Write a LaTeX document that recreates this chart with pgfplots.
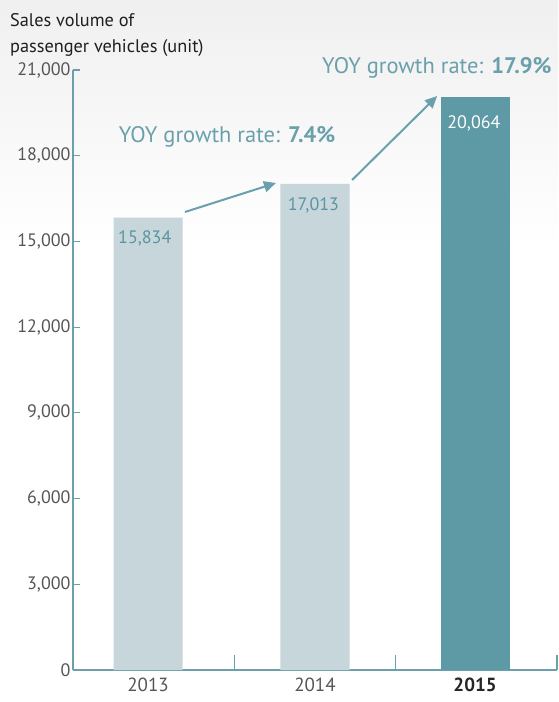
\documentclass[border=0pt]{standalone}
\usepackage{pgfplots}
\pgfplotsset{compat=1.18}
\usetikzlibrary{arrows.meta}
\usepackage{fontspec}
\setmainfont{PT Sans}
\definecolor{axisc}{HTML}{6A9FAB}
\definecolor{lightbar}{HTML}{C6D6DB}
\definecolor{darkbar}{HTML}{5E99A6}
\definecolor{tealtxt}{HTML}{6AA0AC}
\definecolor{valtxt}{HTML}{5A94A1}
\definecolor{ticktext}{HTML}{555555}
\begin{document}
\begin{tikzpicture}
\useasboundingbox (-73pt,-32pt) rectangle (485pt,670pt);
\fill[top color=black!6, bottom color=white] (-73pt,420pt) rectangle (485pt,670pt);
\begin{axis}[
  at={(0pt,0pt)}, anchor=south west,
  scale only axis, width=484pt, height=600pt,
  xmin=0.5, xmax=3.5, ymin=0, ymax=21000,
  clip=false,
  axis lines*=left,
  axis line style={axisc, line width=1.2pt},
  tick align=inside,
  major tick length=7pt,
  tick style={axisc, line width=1.2pt},
  ytick={0,3000,...,21000},
  scaled y ticks=false,
  yticklabel style={font=\fontsize{18}{20}\selectfont, text=ticktext, xshift=1pt},
  /pgf/number format/assume math mode=true,
  /pgf/number format/.cd, fixed, 1000 sep={,}, /pgfplots/.cd,
  xtick={0.965,2,2.992},
  xticklabels={2013,2014,{\color{black!85}\bfseries 2015}},
  xticklabel style={font=\fontsize{19}{21}\selectfont, text=ticktext, yshift=-4pt},
  x tick style={draw=none},
  extra x ticks={1.5,2.5,3.5},
  extra x tick labels={},
  extra x tick style={major tick length=15pt, x tick style={draw=axisc, line width=1.2pt}},
]
\addplot[ybar, bar shift=0pt, bar width=69pt, fill=lightbar, draw=none] coordinates {(0.965,15834) (2,17013)};
\addplot[ybar, bar shift=0pt, bar width=69pt, fill=darkbar, draw=none] coordinates {(2.992,20064)};

\node[font=\fontsize{18}{20}\selectfont, text=valtxt] at (axis cs:0.945,15120) {15,834};
\node[font=\fontsize{18}{20}\selectfont, text=valtxt] at (axis cs:1.99,16275) {17,013};
\node[font=\fontsize{18}{20}\selectfont, text=white] at (axis cs:2.985,19145) {20,064};

\draw[-{Triangle[length=12pt,width=11pt]}, draw=axisc, line width=2pt] (axis cs:1.194,16030) -- (axis cs:1.758,17045);
\draw[-{Triangle[length=12pt,width=11pt]}, draw=axisc, line width=2pt] (axis cs:2.23,17150) -- (axis cs:2.757,20090);

\node[font=\fontsize{22.5}{24}\selectfont, text=tealtxt] at (axis cs:1.455,18655) {YOY growth rate: \textbf{7.4\%}};
\node[font=\fontsize{22.5}{24}\selectfont, text=tealtxt] at (axis cs:2.755,21070) {YOY growth rate: \textbf{17.9\%}};

\node[anchor=north west, align=left, font=\fontsize{18.3}{26}\selectfont, text=black!88, inner sep=0pt] at (axis cs:0.109,22980) {Sales volume of\\passenger vehicles (unit)};
\end{axis}
\end{tikzpicture}
\end{document}
